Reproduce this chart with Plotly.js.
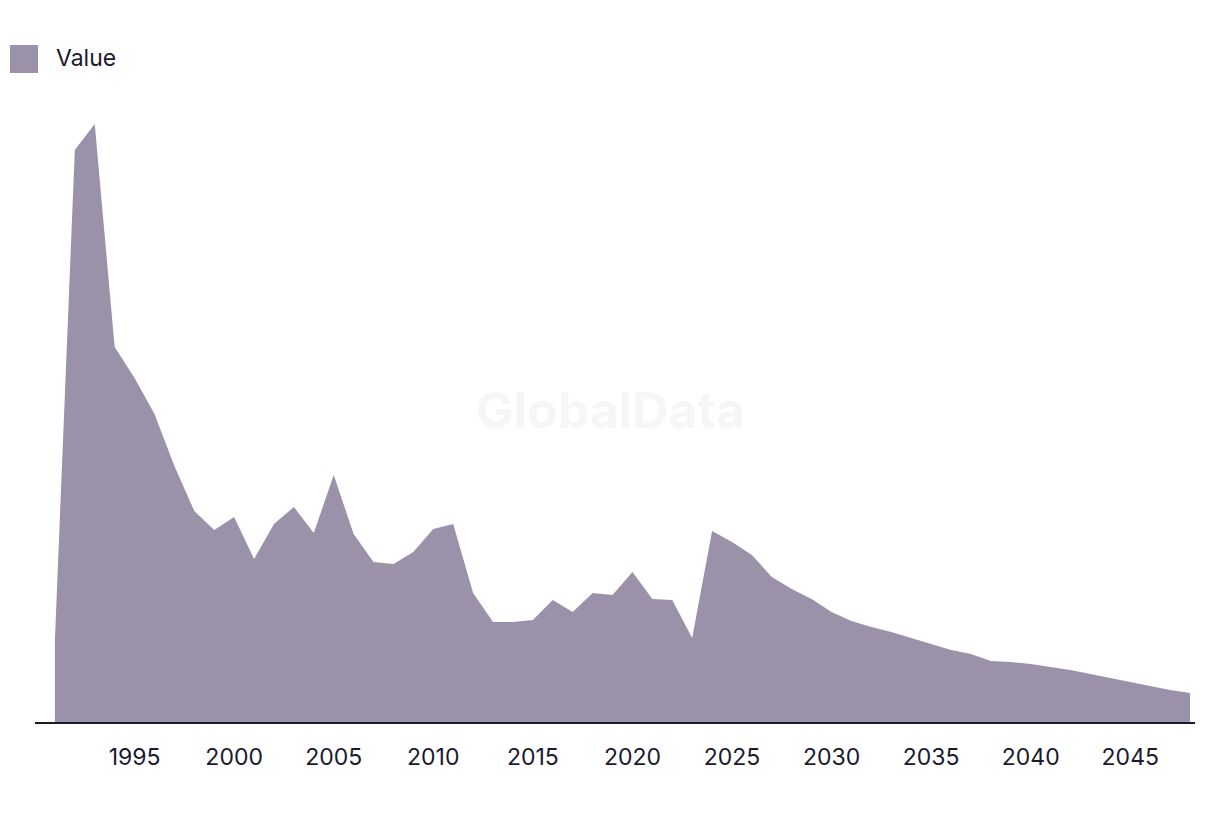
<!DOCTYPE html>
<html>
<head>
<meta charset="utf-8">
<script src="https://cdn.plot.ly/plotly-3.0.1.min.js"></script>
<style>html,body{margin:0;padding:0;background:#fff;}#chart{width:1220px;height:816px;}</style>
</head>
<body>
<div id="chart"></div>
<script>
const years = [1991,1992,1993,1994,1995,1996,1997,1998,1999,2000,2001,2002,2003,2004,2005,2006,2007,2008,2009,2010,2011,2012,2013,2014,2015,2016,2017,2018,2019,2020,2021,2022,2023,2024,2025,2026,2027,2028,2029,2030,2031,2032,2033,2034,2035,2036,2037,2038,2039,2040,2041,2042,2043,2044,2045,2046,2047,2048];
const values = [82,572,598,375,344,308,256,211,192,205,163,198,215,189,247,188,160,158,170,193,198,129,100,100,102,122,110,129,127,150,123,122,84,191,180,167,145,133,123,110,101,95,90,84,78,72,68,61,60,58,55,52,48,44,40,36,32,29];
const tickYears = [1995,2000,2005,2010,2015,2020,2025,2030,2035,2040,2045];
const seriesName = "Value";

const trace = {
  x: years, y: values, type: 'scatter', mode: 'lines',
  fill: 'tozeroy', fillcolor: '#9b92aa',
  line: {width: 0, color: '#9b92aa'},
  name: seriesName, showlegend: false, hoverinfo: 'x+y'
};

const layout = {
  width: 1220, height: 816,
  margin: {l: 35, r: 25, t: 100, b: 94},
  paper_bgcolor: '#ffffff', plot_bgcolor: '#ffffff',
  font: {family: 'Inter, "Liberation Sans", sans-serif', color: '#1a1a2e'},
  xaxis: {
    range: [1990.0, 2048.25], tickvals: tickYears, ticktext: tickYears.map(String),
    showgrid: false, zeroline: false, showline: true, linecolor: '#1a1a2e', linewidth: 2,
    ticks: '', ticklabelstandoff: 13, tickfont: {size: 23, color: '#1a1a2e'}
  },
  yaxis: {
    range: [0, 622], showgrid: false, zeroline: false, showline: false,
    showticklabels: false, ticks: ''
  },
  shapes: [{
    type: 'rect', xref: 'paper', yref: 'paper',
    x0: (10-35)/1160, x1: (38-35)/1160, y0: (722-73)/622, y1: (722-45)/622,
    fillcolor: '#9b92aa', line: {width: 0}
  }],
  annotations: [
    {text: seriesName, xref: 'paper', yref: 'paper', x: (54-35)/1160, y: (722-58)/622,
     xanchor: 'left', yanchor: 'middle', showarrow: false, font: {size: 23, color: '#1a1a2e'}},
    {text: '<b>GlobalData</b>', xref: 'paper', yref: 'paper', x: (610-35)/1160, y: (722-410)/622,
     xanchor: 'center', yanchor: 'middle', showarrow: false, font: {size: 50, color: '#f6f6f6'}}
  ]
};

Plotly.newPlot('chart', [trace], layout, {displayModeBar: false, staticPlot: true});
</script>
</body>
</html>
